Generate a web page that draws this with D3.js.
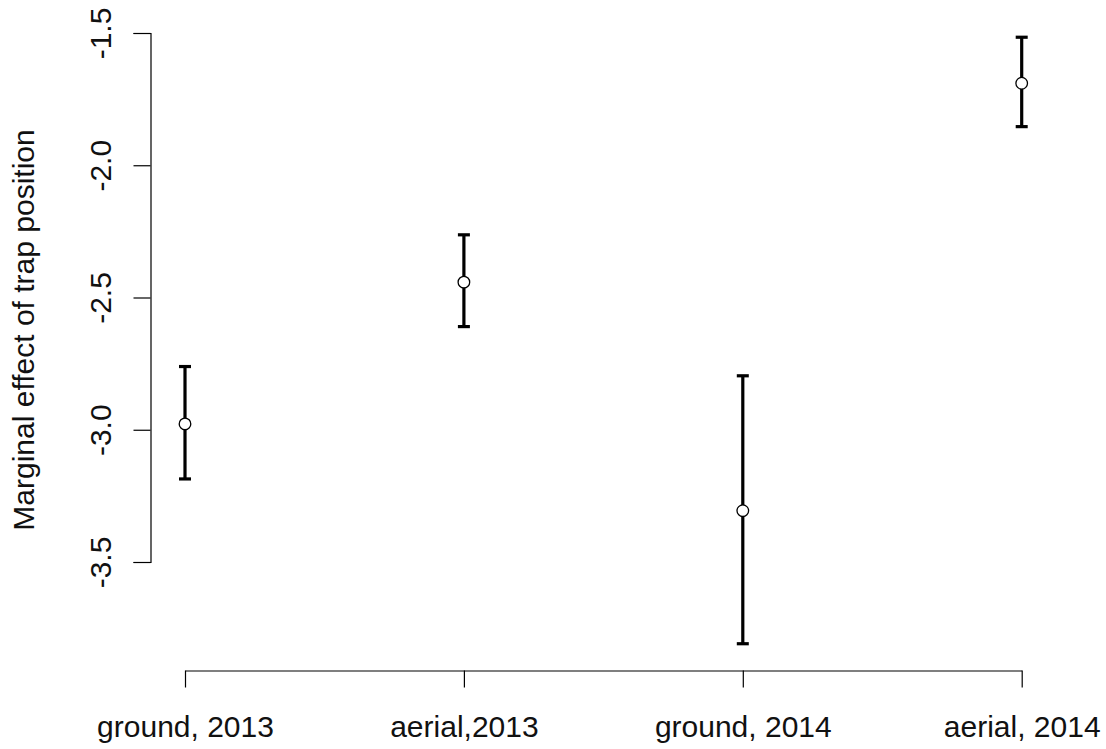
<!DOCTYPE html>
<html>
<head>
<meta charset="utf-8">
<script src="https://cdn.jsdelivr.net/npm/d3@7"></script>
<style>
  html, body { margin: 0; padding: 0; background: #fff; }
  svg { display: block; font-family: "Liberation Sans", Arial, sans-serif; }
</style>
</head>
<body>
<svg id="chart" width="1106" height="749"></svg>
<script>
// ---- data ----
const categories = ["ground, 2013", "aerial,2013", "ground, 2014", "aerial, 2014"];
const estimates  = [-2.978, -2.442, -3.306, -1.690];
const upper      = [-2.761, -2.263, -2.796, -1.516];
const lower      = [-3.186, -2.610, -3.809, -1.854];
const yTicks     = [-3.5, -3.0, -2.5, -2.0, -1.5];
const yTickLabels = ["-3.5", "-3.0", "-2.5", "-2.0", "-1.5"];
const yLabel = "Marginal effect of trap position";

// ---- layout ----
const svg = d3.select("#chart");
const fontSize = 30;

const x = d3.scaleLinear().domain([1, 4]).range([185, 1021.7]);
const y = d3.scaleLinear().domain([-3.5, -1.5]).range([562, 33]);

const axisY = 670.5;   // plot bottom
const axisX = 150.5;   // plot left

// ---- y axis ----
const yAxis = d3.axisLeft(y)
  .tickValues(yTicks)
  .tickFormat((d, i) => yTickLabels[i])
  .tickSize(17)
  .tickPadding(0);

const gy = svg.append("g")
  .attr("transform", `translate(${axisX},0)`)
  .call(yAxis);
gy.select(".domain").attr("stroke", "#000").attr("stroke-width", 1.2);
gy.selectAll(".tick line").attr("stroke", "#000").attr("stroke-width", 1.2);
gy.selectAll(".tick text")
  .attr("font-size", fontSize)
  .attr("fill", "#111")
  .attr("text-anchor", "middle")
  .attr("dy", null)
  .attr("x", null)
  .attr("transform", "translate(-40,0) rotate(-90)")
  .attr("y", 0);

// ---- x axis ----
const xAxis = d3.axisBottom(x)
  .tickValues([1, 2, 3, 4])
  .tickFormat((d, i) => categories[i])
  .tickSize(17)
  .tickSizeOuter(0)
  .tickPadding(0);

const gx = svg.append("g")
  .attr("transform", `translate(0,${axisY})`)
  .call(xAxis);
gx.select(".domain").attr("stroke", "#000").attr("stroke-width", 1.2);
gx.selectAll(".tick line").attr("stroke", "#000").attr("stroke-width", 1.2);
gx.selectAll(".tick text")
  .attr("font-size", fontSize)
  .attr("fill", "#111")
  .attr("dy", null)
  .attr("y", 66);

// ---- y label ----
svg.append("text")
  .attr("transform", `translate(34,330) rotate(-90)`)
  .attr("text-anchor", "middle")
  .attr("font-size", fontSize)
  .attr("fill", "#111")
  .text(yLabel);

// ---- error bars ----
const rows = categories.map((c, i) => ({ i: i + 1, est: estimates[i], hi: upper[i], lo: lower[i] }));
const g = svg.append("g");
const capHalf = 6;

g.selectAll("line.bar").data(rows).join("line")
  .attr("class", "bar")
  .attr("x1", d => x(d.i)).attr("x2", d => x(d.i))
  .attr("y1", d => y(d.hi)).attr("y2", d => y(d.lo))
  .attr("stroke", "#000").attr("stroke-width", 3.2);

g.selectAll("line.capTop").data(rows).join("line")
  .attr("class", "capTop")
  .attr("x1", d => x(d.i) - capHalf).attr("x2", d => x(d.i) + capHalf)
  .attr("y1", d => y(d.hi)).attr("y2", d => y(d.hi))
  .attr("stroke", "#000").attr("stroke-width", 3.2);

g.selectAll("line.capBot").data(rows).join("line")
  .attr("class", "capBot")
  .attr("x1", d => x(d.i) - capHalf).attr("x2", d => x(d.i) + capHalf)
  .attr("y1", d => y(d.lo)).attr("y2", d => y(d.lo))
  .attr("stroke", "#000").attr("stroke-width", 3.2);

g.selectAll("circle").data(rows).join("circle")
  .attr("cx", d => x(d.i))
  .attr("cy", d => y(d.est))
  .attr("r", 5.8)
  .attr("fill", "#fff")
  .attr("stroke", "#000")
  .attr("stroke-width", 1.3);
</script>
</body>
</html>
